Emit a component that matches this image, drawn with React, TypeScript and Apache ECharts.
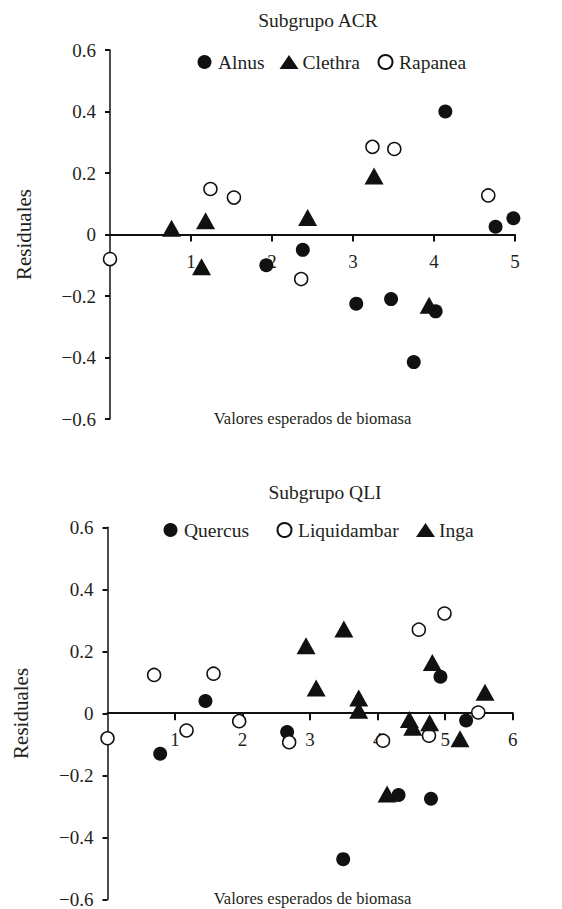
import React, { useEffect, useRef } from "react";
import * as echarts from "echarts";

// Subgrupo ACR
const alnus: number[][] = [
  [1.93, -0.1], [2.38, -0.05], [3.04, -0.225], [3.47, -0.21], [3.75, -0.415],
  [4.02, -0.25], [4.76, 0.025], [4.98, 0.053], [4.14, 0.4],
];
const clethra: number[][] = [
  [0.76, 0.02], [1.18, 0.045], [1.13, -0.105], [2.44, 0.055], [3.26, 0.19], [3.94, -0.23],
];
const rapanea: number[][] = [
  [0.0, -0.08], [1.24, 0.148], [1.53, 0.12], [2.36, -0.145], [3.24, 0.285], [3.51, 0.278], [4.67, 0.127],
];

// Subgrupo QLI
const quercus: number[][] = [
  [0.78, -0.13], [1.45, 0.04], [2.66, -0.06], [3.49, -0.47], [4.31, -0.263],
  [4.79, -0.275], [4.93, 0.118], [5.31, -0.023],
];
const liquidambar: number[][] = [
  [0.0, -0.08], [0.69, 0.124], [1.17, -0.055], [1.57, 0.128], [1.95, -0.025], [2.69, -0.093],
  [4.08, -0.088], [4.76, -0.072], [5.49, 0.003], [4.61, 0.27], [4.99, 0.322],
];
const inga: number[][] = [
  [2.94, 0.218], [3.5, 0.272], [4.81, 0.164], [3.09, 0.082], [3.72, 0.05], [3.72, 0.01],
  [4.14, -0.26], [4.47, -0.02], [4.52, -0.045], [4.77, -0.03], [5.22, -0.082], [5.59, 0.068],
];

const titles = ["Subgrupo ACR", "Subgrupo QLI"];
const yName = "Residuales";
const xName = "Valores esperados de biomasa";
const yMin = -0.6;
const yMax = 0.6;
const yStep = 0.2;
const xMaxTop = 5;
const xMaxBottom = 6;

const FONT = "Liberation Serif";
const INK = "#111111";
const TXT = "#231f20";

const fmtY = (v: number) => {
  const r = Math.round(v * 10) / 10;
  if (r === 0) return "0";
  return r < 0 ? "\u2212" + Math.abs(r).toFixed(1) : r.toFixed(1);
};

export default function App() {
  const ref = useRef<HTMLDivElement>(null);
  useEffect(() => {
    if (!ref.current) return;
    const chart = echarts.init(ref.current, null, { renderer: "svg" });

    const grids = [
      { left: 110, top: 50, width: 405, height: 369 },
      { left: 107.5, top: 527.3, width: 405.2, height: 372.7 },
    ];

    // x axis crosses the y axis at zero: zero sits halfway since y range is symmetric
    const xAxisBase = (gridIndex: number, max: number) => ({
      type: "value",
      gridIndex,
      min: 0,
      max,
      interval: 1,
      position: "bottom",
      offset: -grids[gridIndex].height * ((0 - yMin) / (yMax - yMin)),
      splitLine: { show: false },
      axisLine: { onZero: false, lineStyle: { color: INK, width: 2 } },
      axisTick: { show: true, length: 7, lineStyle: { color: INK, width: 2 } },
      axisLabel: {
        showMinLabel: false,
        margin: 17,
        fontFamily: FONT,
        fontSize: 19,
        color: TXT,
      },
    });
    const yAxisBase = (gridIndex: number) => ({
      type: "value",
      gridIndex,
      min: yMin,
      max: yMax,
      interval: yStep,
      name: yName,
      nameLocation: "middle",
      nameRotate: 90,
      nameGap: 76,
      nameTextStyle: { fontFamily: FONT, fontSize: 21, color: TXT },
      splitLine: { show: false },
      axisLine: { onZero: false, lineStyle: { color: INK, width: 1.5 } },
      axisTick: { show: true, length: 5, lineStyle: { color: INK, width: 2 } },
      axisLabel: {
        margin: 14,
        fontFamily: FONT,
        fontSize: 19,
        color: TXT,
        formatter: fmtY,
      },
    });

    const filled = { color: INK, opacity: 1 };
    const open = { color: "#ffffff", borderColor: INK, borderWidth: 1.5, opacity: 1 };

    const mk = (name: string, data: number[][], idx: number, symbol: string, size: any, style: any) => ({
      type: "scatter",
      name,
      data,
      xAxisIndex: idx,
      yAxisIndex: idx,
      symbol,
      symbolSize: size,
      itemStyle: style,
      emphasis: { disabled: true },
      z: 5,
    });

    const legendItem = (name: string, left: number, top: number) => ({
      data: [name],
      left,
      top,
      itemWidth: 19,
      itemHeight: 14,
      itemGap: 0,
      padding: 0,
      selectedMode: false,
      textStyle: { fontFamily: FONT, fontSize: 19.5, color: TXT, padding: [0, 0, 0, -1] },
    });

    chart.setOption({
      animation: false,
      backgroundColor: "#ffffff",
      textStyle: { fontFamily: FONT, color: TXT },
      grid: grids,
      xAxis: [xAxisBase(0, xMaxTop), xAxisBase(1, xMaxBottom)],
      yAxis: [yAxisBase(0), yAxisBase(1)],
      legend: [
        legendItem("Alnus", 197.5, 52),
        legendItem("Clethra", 279.5, 52),
        legendItem("Rapanea", 377.5, 52),
        legendItem("Quercus", 163.5, 520),
        legendItem("Liquidambar", 276.5, 520),
        legendItem("Inga", 416, 520),
      ],
      graphic: [
        {
          type: "text",
          x: 318,
          y: 20,
          style: { text: titles[0], font: `19.5px ${FONT}`, fill: TXT, textAlign: "center", textVerticalAlign: "middle" },
        },
        {
          type: "text",
          x: 325,
          y: 492,
          style: { text: titles[1], font: `19.5px ${FONT}`, fill: TXT, textAlign: "center", textVerticalAlign: "middle" },
        },
        {
          type: "text",
          x: 312.5,
          y: 418,
          style: { text: xName, font: `16.5px ${FONT}`, fill: TXT, textAlign: "center", textVerticalAlign: "middle" },
        },
        {
          type: "text",
          x: 312.5,
          y: 898,
          style: { text: xName, font: `16.5px ${FONT}`, fill: TXT, textAlign: "center", textVerticalAlign: "middle" },
        },
      ],
      series: [
        mk("Alnus", alnus, 0, "circle", 14, filled),
        mk("Clethra", clethra, 0, "triangle", [19, 17], filled),
        mk("Rapanea", rapanea, 0, "circle", 13, open),
        mk("Quercus", quercus, 1, "circle", 14, filled),
        mk("Liquidambar", liquidambar, 1, "circle", 13, open),
        mk("Inga", inga, 1, "triangle", [19, 17], filled),
      ],
    });
    return () => chart.dispose();
  }, []);

  return (
    <div
      ref={ref}
      style={{ position: "fixed", left: 0, top: 0, width: 562, height: 909, background: "#fff" }}
    />
  );
}
